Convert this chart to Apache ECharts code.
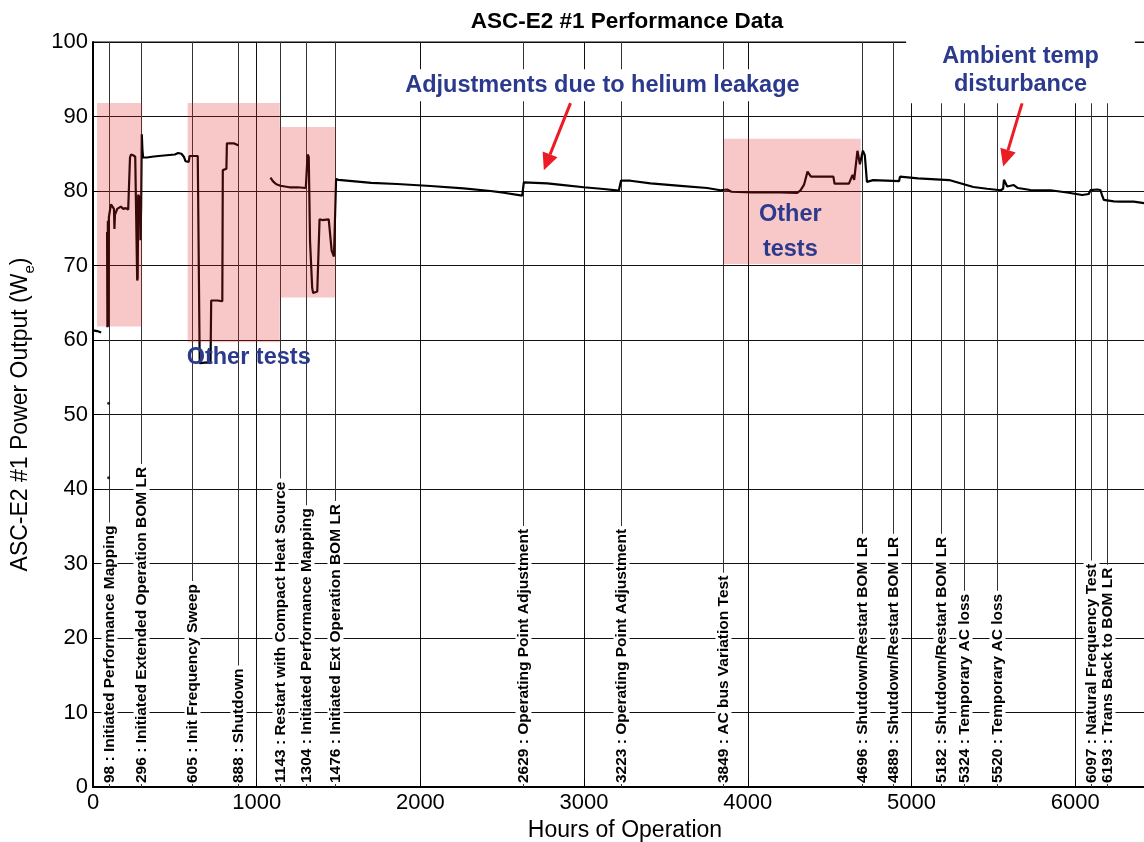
<!DOCTYPE html>
<html>
<head>
<meta charset="utf-8">
<title>ASC-E2 #1 Performance Data</title>
<script src="https://cdn.jsdelivr.net/npm/echarts/dist/echarts.min.js"></script>
<style>
  html, body { margin: 0; padding: 0; background: #fff; }
  #chart { width: 1144px; height: 842px; }
</style>
</head>
<body>
<div id="chart"></div>
<script>
// Convertor output power vs. accumulated operating hours (null = no data, e.g. shutdown)
const hours = [
  0, 25, 50, null,
  86, 88, 91, 94, 97, 105, 110, 122, 128, 131, 134, 140, 148, 160, 170, 185, 200, 215, 225,
  226, 232, 245, 258, 268, 270, 273, 276, 282, 287, 290, 294, 298, 302, 306, 310,
  330, 360, 400, 450, 500, 520, 540, 555, 565, 585, 590, 600, 640, 650,
  652, 660, 700, 718, 722, 760, 790, 793, 815, 818, 860, 880, 890, null,
  1084, 1100, 1120, 1145, 1200, 1250, 1300, 1308, 1311, 1318, 1322, 1326, 1332, 1339, 1345,
  1353, 1370, 1380, 1384, 1400, 1440, 1452, 1458, 1465, 1472, 1480, 1485, 1500,
  1600, 1700, 1858, 2062, 2264, 2428, 2509, 2622, 2629, 2632, 2775, 2876, 2998, 3120,
  3212, 3222, 3226, 3283, 3406, 3589, 3752, 3833, 3874, 3900, 4027, 4200, 4302, 4322,
  4344, 4365, 4386, 4428, 4523, 4530, 4618, 4640, 4650, 4670, 4685, 4703, 4715, 4728,
  4766, 4924, 4930, 5040, 5230, 5240, 5378, 5462, 5545, 5560, 5565, 5575, 5585, 5625,
  5650, 5727, 5849, 5951, 6043, 6083, 6095, 6134, 6154, 6164, 6175, 6185, 6236, 6277,
  6358, 6423, 6500
];
const watts = [
  61.3, 61.2, 61.0, null,
  74.5, 61.7, 76.0, 61.8, 76.5, 77.6, 78.2, 78.2, 77.6, 74.9, 76.8, 77.0, 77.6, 77.7, 77.9, 77.6, 77.7, 77.5, 77.6,
  84.5, 84.9, 84.8, 84.6, 84.6, 68.0, 68.3, 79.5, 79.2, 78.5, 73.4, 78.0, 87.6, 85.5, 84.5, 84.7,
  84.5, 84.6, 84.7, 84.8, 84.9, 85.1, 85.0, 84.6, 84.0, 83.9, 84.7, 84.8, 84.7, 84.6,
  56.9, 56.9, 57.0, 56.9, 65.3, 65.3, 65.2, 82.8, 83.0, 86.4, 86.4, 86.2, 86.1, null,
  81.8, 81.3, 80.9, 80.7, 80.5, 80.5, 80.4, 80.4, 84.9, 84.6, 84.8, 73.2, 73.0, 67.0, 66.3,
  66.5, 66.5, 66.6, 76.2, 76.1, 76.2, 76.0, 72.0, 71.6, 71.2, 71.3, 81.6, 81.5,
  81.3, 81.1, 80.94, 80.67, 80.36, 80.0, 79.77, 79.37, 79.35, 81.17, 81.03, 80.8, 80.5, 80.27,
  80.04, 80.0, 81.4, 81.38, 81.03, 80.7, 80.4, 80.1, 80.2, 79.9, 79.8, 79.8, 79.76, 80.08,
  80.86, 82.6, 81.93, 81.93, 81.93, 81.0, 81.0, 82.16, 81.5, 85.4, 83.6, 85.4, 84.8, 81.23,
  81.46, 81.32, 81.93, 81.7, 81.47, 81.23, 80.54, 80.3, 80.1, 80.3, 81.5, 81.7, 80.6, 80.8,
  80.4, 80.13, 80.1, 79.8, 79.46, 79.6, 80.13, 80.2, 80.13, 79.46, 78.8, 78.57, 78.6, 78.57,
  78.57, 78.35, 78.3
];

// isolated readings logged during the first mapping run
const strayHours = [95, 95];
const strayWatts = [51.5, 41.5];

// logged operating events
const eventHours = [98, 296, 605, 888, 1143, 1304, 1476, 2629, 3223, 3849, 4696, 4889, 5182, 5324, 5520, 6097, 6193];
const eventNotes = [
  'Initiated Performance Mapping',
  'Initiated Extended Operation BOM LR',
  'Init Frequency Sweep',
  'Shutdown',
  'Restart with Compact Heat Source',
  'Initiated Performance Mapping',
  'Initiated Ext Operation BOM LR',
  'Operating Point Adjustment',
  'Operating Point Adjustment',
  'AC bus Variation Test',
  'Shutdown/Restart BOM LR',
  'Shutdown/Restart BOM LR',
  'Shutdown/Restart BOM LR',
  'Temporary AC loss',
  'Temporary AC loss',
  'Natural Frequency Test',
  'Trans Back to BOM LR'
];

// test windows: [start h, end h, low W, high W]
const testBoxes = [
  [25, 300, 61.8, 91.8],
  [578, 1141, 59.7, 91.8],
  [1141, 1481, 65.7, 88.6],
  [3852, 4690, 70.2, 87.0]
];

// callout texts
const noteHours = [951, 3112, 4260, 5666];
const noteWatts = [57.7, 94.2, 74.5, 96.2];
const noteTexts = ['Other tests', 'Adjustments due to helium leakage', 'Other\ntests', 'Ambient temp\ndisturbance'];
const noteLineHeights = [28, 28, 35, 28];
const notePadding = [null, [2, 6], null, [5, 36, 5, 36]];

// callout arrows: tail -> head
const arrowFrom = [[2917, 91.8], [5676, 91.8]];
const arrowTo = [[2754, 82.8], [5560, 83.3]];

const xMin = 0, xMax = 6500, xStep = 1000;
const yMin = 0, yMax = 100, yStep = 10;

const navy = '#2c3a8e';
const baseFont = '"Liberation Sans", Arial, Helvetica, sans-serif';

const chart = echarts.init(document.getElementById('chart'), null, { renderer: 'canvas' });

const lineData = hours.map((h, i) => (h === null ? [null, null] : [h, watts[i]]));

const option = {
  animation: false,
  backgroundColor: '#fff',
  title: {
    text: 'ASC-E2 #1 Performance Data',
    left: 622,
    top: 5,
    textAlign: 'center',
    textStyle: { fontFamily: baseFont, fontWeight: 'bold', fontSize: 22.5, color: '#000' }
  },
  grid: {
    left: 93, top: 42, width: 1064, height: 745,
    outerBoundsMode: 'none', containLabel: false,
    show: true, borderColor: '#000', borderWidth: 1, backgroundColor: 'transparent'
  },
  xAxis: {
    type: 'value', min: xMin, max: xMax, interval: xStep,
    name: 'Hours of Operation', nameLocation: 'middle', nameGap: 30,
    nameTextStyle: { fontFamily: baseFont, fontSize: 23, color: '#000' },
    axisLine: { show: true, onZero: false, lineStyle: { color: '#000', width: 2 } },
    axisTick: { show: true, inside: true, length: 8, lineStyle: { color: '#000' } },
    axisLabel: {
      fontFamily: baseFont, fontSize: 22, color: '#000', margin: 5, showMaxLabel: false,
      formatter: function (v) { return String(v); }
    },
    splitLine: { show: true, lineStyle: { color: '#111', width: 1 } }
  },
  yAxis: {
    type: 'value', min: yMin, max: yMax, interval: yStep,
    name: '{a|ASC-E2 #1 Power Output (W}{s|e}{a|)}', nameLocation: 'middle', nameGap: 56,
    nameTextStyle: {
      fontFamily: baseFont, fontSize: 23, color: '#000',
      rich: {
        a: { fontFamily: baseFont, fontSize: 23, color: '#000', lineHeight: 32 },
        s: { fontFamily: baseFont, fontSize: 15, color: '#000', lineHeight: 32, verticalAlign: 'bottom' }
      }
    },
    axisLine: { show: true, lineStyle: { color: '#000', width: 2 } },
    axisTick: { show: true, inside: true, length: 8, lineStyle: { color: '#000' } },
    axisLabel: { fontFamily: baseFont, fontSize: 22, color: '#000', margin: 5 },
    splitLine: { show: true, lineStyle: { color: '#111', width: 1 } }
  },
  series: [
    {
      // event markers with their notes along the bottom
      type: 'custom',
      name: 'events',
      z: 2,
      data: eventHours.map((h, i) => [h, i]),
      encode: { x: 0, y: 1 },
      renderItem: function (params, api) {
        const h = api.value(0);
        const top = api.coord([h, yMax]);
        const bot = api.coord([h, yMin]);
        const x = Math.round(top[0]) + 0.5;
        return {
          type: 'group',
          children: [
            {
              type: 'line',
              shape: { x1: x, y1: top[1], x2: x, y2: bot[1] },
              style: { stroke: '#333', lineWidth: 1 }
            },
            {
              type: 'text',
              x: x, y: bot[1] - 3,
              rotation: Math.PI / 2,
              style: {
                text: h + ' : ' + eventNotes[params.dataIndex],
                fontFamily: baseFont, fontWeight: 'bold', fontSize: 15.5,
                fill: '#000', align: 'left', verticalAlign: 'middle',
                backgroundColor: '#fff', padding: [0, 3, 0, 1]
              }
            }
          ]
        };
      }
    },
    {
      type: 'line',
      name: 'power',
      z: 3,
      data: lineData,
      showSymbol: false,
      connectNulls: false,
      lineStyle: { color: '#000', width: 2.2 }
    },
    {
      type: 'scatter',
      name: 'stray',
      z: 3,
      data: strayHours.map((h, i) => [h, strayWatts[i]]),
      symbolSize: 3,
      itemStyle: { color: '#000' }
    },
    {
      // shaded test windows
      type: 'custom',
      name: 'tests',
      z: 4,
      data: testBoxes,
      encode: { x: [0, 1], y: [2, 3] },
      renderItem: function (params, api) {
        const p0 = api.coord([api.value(0), api.value(3)]);
        const p1 = api.coord([api.value(1), api.value(2)]);
        return {
          type: 'rect',
          shape: { x: p0[0], y: p0[1], width: p1[0] - p0[0], height: p1[1] - p0[1] },
          style: { fill: 'rgba(228, 30, 36, 0.25)' }
        };
      }
    },
    {
      // red callout arrows
      type: 'custom',
      name: 'arrows',
      z: 5,
      data: arrowFrom.map((a, i) => [a[0], a[1], arrowTo[i][0], arrowTo[i][1]]),
      encode: { x: [0, 2], y: [1, 3] },
      renderItem: function (params, api) {
        const a = api.coord([api.value(0), api.value(1)]);
        const b = api.coord([api.value(2), api.value(3)]);
        const ang = Math.atan2(b[1] - a[1], b[0] - a[0]);
        const headLen = 17, headHalf = 8;
        const bx = b[0] - headLen * Math.cos(ang), by = b[1] - headLen * Math.sin(ang);
        const nx = -Math.sin(ang), ny = Math.cos(ang);
        return {
          type: 'group',
          children: [
            { type: 'line', shape: { x1: a[0], y1: a[1], x2: bx, y2: by }, style: { stroke: '#ec1c24', lineWidth: 3 } },
            {
              type: 'polygon',
              shape: { points: [[b[0], b[1]], [bx + nx * headHalf, by + ny * headHalf], [bx - nx * headHalf, by - ny * headHalf]] },
              style: { fill: '#ec1c24' }
            }
          ]
        };
      }
    },
    {
      // blue callout texts
      type: 'custom',
      name: 'notes',
      z: 6,
      data: noteHours.map((h, i) => [h, noteWatts[i]]),
      encode: { x: 0, y: 1 },
      renderItem: function (params, api) {
        const p = api.coord([api.value(0), api.value(1)]);
        const i = params.dataIndex;
        const style = {
          text: noteTexts[i],
          fontFamily: baseFont, fontWeight: 'bold', fontSize: 23.5, lineHeight: noteLineHeights[i],
          fill: navy, align: 'center', verticalAlign: 'middle'
        };
        if (notePadding[i]) { style.backgroundColor = '#fff'; style.padding = notePadding[i]; }
        return { type: 'text', x: p[0], y: p[1], style: style };
      }
    }
  ]
};

chart.setOption(option);
</script>
</body>
</html>
